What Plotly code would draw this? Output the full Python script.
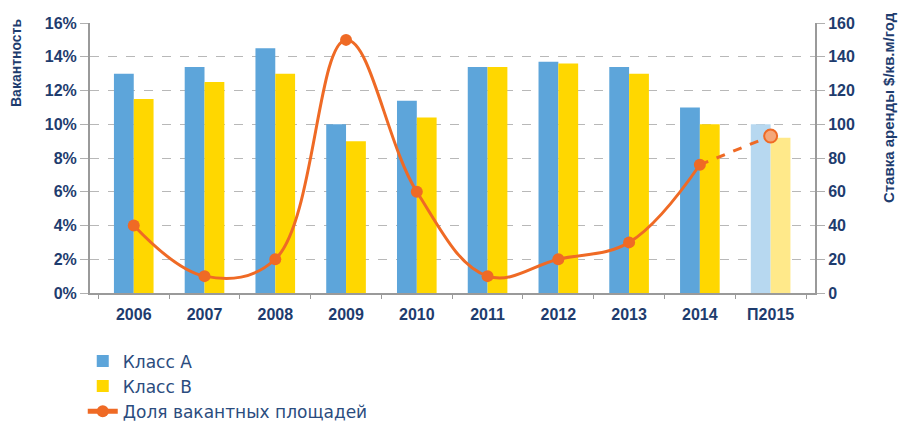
import plotly.graph_objects as go

years = ["2006", "2007", "2008", "2009", "2010", "2011", "2012", "2013", "2014", "П2015"]
class_a = [130, 134, 145, 100, 114, 134, 137, 134, 110, 100]
class_b = [115, 125, 130, 90, 104, 134, 136, 130, 100, 92]
vacancy = [0.04, 0.01, 0.02, 0.15, 0.06, 0.01, 0.02, 0.03, 0.076, 0.093]

BLUE = "#5DA5DA"
BLUE_LIGHT = "#B7D8F0"
YELLOW = "#FFD700"
YELLOW_LIGHT = "#FFE98A"
ORANGE = "#EF6A25"
NAVY = "#1E3C6E"
FONT = "Liberation Sans Narrow, Arial Narrow, Liberation Sans, sans-serif"

a_colors = [BLUE] * (len(years) - 1) + [BLUE_LIGHT]
b_colors = [YELLOW] * (len(years) - 1) + [YELLOW_LIGHT]

fig = go.Figure()
# rent rates (bars) on the right-hand axis
fig.add_trace(go.Bar(x=years, y=class_a, name="Класс А", marker_color=a_colors,
                     marker_line_width=0, yaxis="y"))
fig.add_trace(go.Bar(x=years, y=class_b, name="Класс B", marker_color=b_colors,
                     marker_line_width=0, yaxis="y"))

# vacancy share on the left-hand axis: actual (solid) and forecast (dashed)
fig.add_trace(go.Scatter(x=years[:-1], y=vacancy[:-1], mode="lines+markers",
                         name="Доля вакантных площадей",
                         line=dict(color=ORANGE, width=3, shape="spline", smoothing=1.1),
                         marker=dict(color=ORANGE, size=12), yaxis="y2"))
fig.add_trace(go.Scatter(x=years[-2:], y=vacancy[-2:], mode="lines",
                         line=dict(color=ORANGE, width=3, dash="dash"),
                         showlegend=False, hoverinfo="skip", yaxis="y2"))
fig.add_trace(go.Scatter(x=years[-1:], y=vacancy[-1:], mode="markers",
                         marker=dict(color="#F4A77A", size=13,
                                     line=dict(color=ORANGE, width=2)),
                         showlegend=False, yaxis="y2"))

tickfont = dict(family=FONT, size=16, color=NAVY, weight="bold")
titlefont = dict(family=FONT, size=14, color=NAVY, weight="bold")

fig.update_layout(
    width=899, height=424,
    margin=dict(l=90, r=84, t=23, b=131),
    paper_bgcolor="white", plot_bgcolor="white",
    barmode="group", bargap=0.44, bargroupgap=0,
    font=dict(family=FONT, color=NAVY),
    xaxis=dict(
        type="category", tickson="boundaries", ticks="outside", ticklen=4,
        tickcolor="#9A9A9A", showline=True, linecolor="#9A9A9A", linewidth=2,
        showgrid=False, tickfont=tickfont, ticklabelstandoff=6,
    ),
    yaxis=dict(
        range=[0, 160], dtick=20, side="right",
        ticks="outside", ticklen=8, tickcolor="#B0B0B0",
        showline=True, linecolor="#9A9A9A", linewidth=2,
        showgrid=True, gridcolor="#B8B8B8", griddash="dash", gridwidth=1,
        zeroline=False, tickfont=tickfont,
    ),
    yaxis2=dict(
        range=[0, 0.16], dtick=0.02, tickformat=".0%",
        overlaying="y", side="left",
        ticks="outside", ticklen=8, tickcolor="#B0B0B0",
        showline=True, linecolor="#9A9A9A", linewidth=2,
        showgrid=False, zeroline=False, tickfont=tickfont,
    ),
    legend=dict(
        orientation="v", x=-0.01, xanchor="left",
        yref="container", y=0.19, yanchor="top",
        font=dict(family="DejaVu Sans, sans-serif", size=17, color="#2B4C7E"),
        itemsizing="constant", bgcolor="rgba(0,0,0,0)",
    ),
    showlegend=True,
)

# axis titles sit near the top of each axis
fig.add_annotation(text="Вакантность", xref="paper", yref="paper",
                   x=-0.102, y=0.852, textangle=-90, showarrow=False,
                   xanchor="center", yanchor="middle", font=titlefont)
fig.add_annotation(text="Ставка аренды $/кв.м/год", xref="paper", yref="paper",
                   x=1.1007, y=0.685, textangle=-90, showarrow=False,
                   xanchor="center", yanchor="middle",
                   font=dict(family=FONT, size=15, color=NAVY, weight="bold"))

fig.write_html("out.html")
